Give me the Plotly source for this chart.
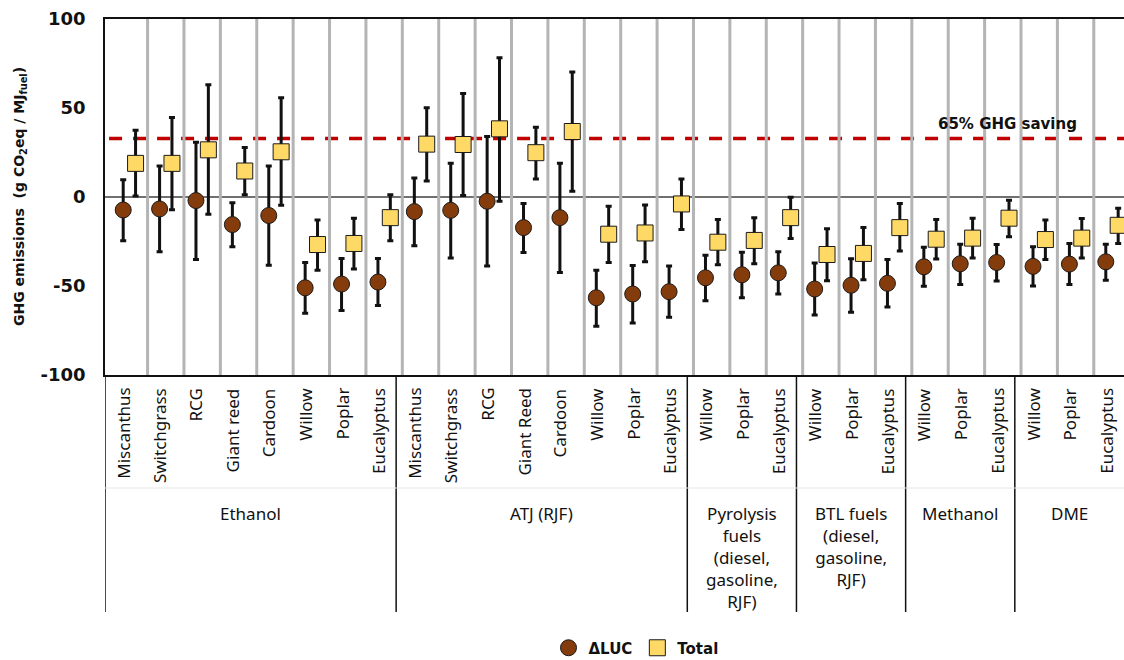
import plotly.graph_objects as go

# ---------------- data ----------------
groups = ["Ethanol", "ATJ (RJF)", "Pyrolysis<br>fuels<br>(diesel,<br>gasoline,<br>RJF)",
          "BTL fuels<br>(diesel,<br>gasoline,<br>RJF)", "Methanol", "DME"]
group_items = [
    ["Miscanthus", "Switchgrass", "RCG", "Giant reed", "Cardoon", "Willow", "Poplar", "Eucalyptus"],
    ["Miscanthus", "Switchgrass", "RCG", "Giant Reed", "Cardoon", "Willow", "Poplar", "Eucalyptus"],
    ["Willow", "Poplar", "Eucalyptus"],
    ["Willow", "Poplar", "Eucalyptus"],
    ["Willow", "Poplar", "Eucalyptus"],
    ["Willow", "Poplar", "Eucalyptus"],
]

luc = [-7.3, -6.7, -2.0, -15.5, -10.4, -51.0, -48.9, -47.8,
       -8.2, -7.5, -2.4, -17.2, -11.6, -56.6, -54.5, -53.2,
       -45.4, -43.7, -42.6,
       -51.7, -49.6, -48.5,
       -39.2, -37.5, -36.8,
       -39.0, -37.7, -36.4]
luc_hi = [9.7, 17.4, 30.8, -3.3, 17.4, -36.8, -34.5, -34.5,
          10.7, 18.9, 34.0, -3.7, 18.9, -41.1, -38.5, -38.7,
          -32.7, -31.0, -30.8,
          -37.1, -34.7, -35.1,
          -28.3, -26.5, -26.7,
          -28.0, -26.1, -26.5]
luc_lo = [-24.6, -30.8, -35.1, -28.0, -38.3, -65.3, -63.7, -61.0,
          -27.4, -34.2, -38.8, -31.2, -42.4, -72.6, -70.8, -67.6,
          -58.3, -56.6, -54.5,
          -66.3, -64.8, -61.8,
          -50.2, -49.1, -47.2,
          -50.0, -49.1, -46.7]

total = [18.9, 18.9, 26.5, 14.6, 25.4, -26.7, -26.1, -11.6,
         29.7, 29.5, 38.3, 24.9, 36.8, -20.9, -20.2, -3.9,
         -25.4, -24.4, -11.6,
         -32.3, -31.7, -17.2,
         -23.7, -23.1, -11.9,
         -23.9, -23.1, -15.9]
total_hi = [37.5, 44.6, 63.0, 27.8, 55.7, -12.9, -11.9, 1.3,
            50.1, 58.1, 78.3, 39.2, 70.2, -5.2, -4.5, 10.1,
            -12.7, -11.6, -0.2,
            -17.9, -17.2, -3.7,
            -12.7, -11.9, -1.8,
            -12.9, -12.1, -6.3]
total_lo = [0.6, -7.1, -9.7, 1.3, -4.6, -41.1, -40.5, -24.6,
            9.0, 0.8, -2.4, 10.1, 3.2, -36.8, -36.4, -18.3,
            -38.1, -37.5, -23.3,
            -47.0, -46.5, -30.4,
            -34.9, -34.3, -22.4,
            -35.1, -34.3, -26.1]

ghg_saving_threshold = 32.9
y_ticks = [-100, -50, 0, 50, 100]
y_tick_labels = ["-100", "-50", "0", "50", "100"]

# ---------------- layout helpers ----------------
W, H = 1124, 660
L, R, T, B = 105, 0, 19, 285
PH = H - T - B
def py(px):  # pixel y (below plot) -> paper y
    return (H - B - px) / PH
def px_paper(px):
    return (px - L) / (W - L - R)

n = len(luc)
idx = list(range(n))
off = 0.34
x_luc = idx
x_tot = [i + off for i in idx]

FONT = "Noto Sans"
BOLD = "DejaVu Sans"

fig = go.Figure()
fig.add_trace(go.Scatter(
    x=x_luc, y=luc, mode="markers", name="ΔLUC",
    marker=dict(symbol="circle", size=16, color="#843C0C", line=dict(color="#1a1a1a", width=1)),
    error_y=dict(type="data", symmetric=False,
                 array=[h - v for h, v in zip(luc_hi, luc)],
                 arrayminus=[v - l for v, l in zip(luc, luc_lo)],
                 color="#111111", thickness=3, width=3),
))
fig.add_trace(go.Scatter(
    x=x_tot, y=total, mode="markers", name="Total",
    marker=dict(symbol="square", size=16, color="#FFD966", line=dict(color="#1a1a1a", width=1)),
    error_y=dict(type="data", symmetric=False,
                 array=[h - v for h, v in zip(total_hi, total)],
                 arrayminus=[v - l for v, l in zip(total, total_lo)],
                 color="#111111", thickness=3, width=3),
))

shapes = []
for i in range(n - 1):
    shapes.append(dict(type="line", xref="x", yref="y", x0=i + 0.67, x1=i + 0.67, y0=-100, y1=100,
                       line=dict(color="#b4b4b4", width=3), layer="below"))
shapes.append(dict(type="line", xref="paper", yref="y", x0=0, x1=1, y0=0, y1=0,
                   line=dict(color="#404040", width=1.5), layer="below"))
shapes.append(dict(type="line", xref="paper", yref="y", x0=0.004, x1=1, y0=ghg_saving_threshold,
                   y1=ghg_saving_threshold, line=dict(color="#C00000", width=3.5, dash="13px,11px"),
                   layer="below"))
bounds = [-0.5]
c = -0.5
for g in group_items:
    c += len(g)
    bounds.append(c)
for b in bounds[:-1]:
    shapes.append(dict(type="line", xref="x", yref="paper", x0=b, x1=b, y0=0, y1=py(612),
                       line=dict(color="#111111", width=1.5)))
shapes.append(dict(type="line", xref="paper", yref="paper", x0=0, x1=1, y0=py(488), y1=py(488),
                   line=dict(color="#e6e6e6", width=1)))

annotations = []
k = 0
for gi, (g, items) in enumerate(zip(groups, group_items)):
    start = k
    for it in items:
        annotations.append(dict(x=k, xref="x", y=py(386), yref="paper", text=it, showarrow=False,
                                textangle=-90, xanchor="center", yanchor="top",
                                font=dict(family=FONT, size=17, color="#111111")))
        k += 1
    annotations.append(dict(x=(start + k - 1) / 2, xref="x", y=py(500), yref="paper", text=g,
                            showarrow=False, xanchor="center", yanchor="top", align="center",
                            font=dict(family=FONT, size=17, color="#111111")))

annotations.append(dict(x=px_paper(1007), xref="paper", y=41, yref="y", text="65% GHG saving",
                        showarrow=False, xanchor="center", yanchor="middle",
                        font=dict(family=BOLD, size=15, color="#111111", weight="bold")))
annotations.append(dict(x=px_paper(20), xref="paper", y=0.5, yref="paper",
                        text="GHG emissions  (g CO<sub>2</sub>eq / MJ<sub>fuel</sub>)",
                        showarrow=False, textangle=-90, xanchor="center", yanchor="middle",
                        font=dict(family=BOLD, size=14, color="#111111", weight="bold")))

fig.update_layout(
    width=W, height=H, margin=dict(l=L, r=R, t=T, b=B, autoexpand=False),
    paper_bgcolor="white", plot_bgcolor="white",
    showlegend=True,
    legend=dict(orientation="h", x=px_paper(636), xanchor="center", y=py(648), yanchor="middle",
                font=dict(family=BOLD, size=15, color="#111111", weight="bold"), itemwidth=30,
                bgcolor="rgba(0,0,0,0)"),
    shapes=shapes, annotations=annotations,
)
fig.update_xaxes(range=[-0.5, n - 0.5], showgrid=False, zeroline=False, showticklabels=False,
                 ticks="", showline=True, mirror=True, linecolor="#111111", linewidth=1.5, fixedrange=True)
fig.update_yaxes(range=[-100, 100], tickvals=y_ticks, ticktext=y_tick_labels, showgrid=False,
                 zeroline=False, ticks="", showline=True, linecolor="#111111", linewidth=1.5,
                 ticklabelstandoff=14,
                 tickfont=dict(family=BOLD, size=18, color="#111111", weight="bold"),
                 fixedrange=True)

fig.write_html("out.html", config={"displayModeBar": False},
               post_script="document.body.style.margin='0';")
